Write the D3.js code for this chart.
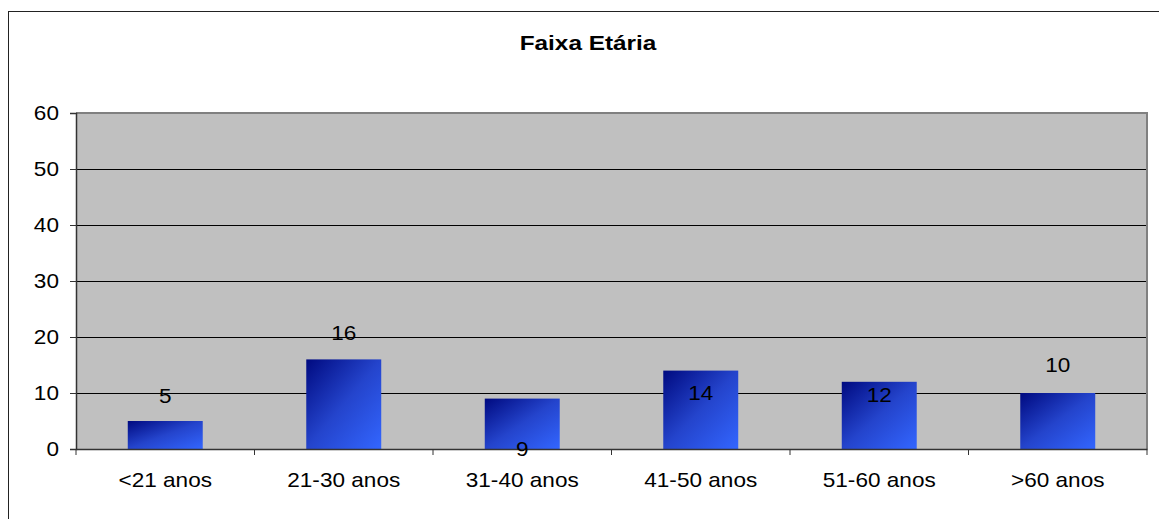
<!DOCTYPE html>
<html>
<head>
<meta charset="utf-8">
<script src="https://cdn.jsdelivr.net/npm/d3@7"></script>
<style>
  body { margin: 0; background: #fff; }
  text { font-family: "Liberation Sans", Arial, sans-serif; fill: #000; }
</style>
</head>
<body>
<script>
// chart data
const categories = ["<21 anos", "21-30 anos", "31-40 anos", "41-50 anos", "51-60 anos", ">60 anos"];
const values = [5, 16, 9, 14, 12, 10];
// where excel left each data label, in value units
const labelAt = [9.5, 20.8, 0, 10, 9.6, 15];
const yTicks = [0, 10, 20, 30, 40, 50, 60];
const title = "Faixa Etária";

const w = 1159;
const h = 519;
const plot = { left: 76, right: 1147, top: 113, bottom: 449 };
const stretch = 1.13; // text looks a bit wide in the reference

const svg = d3.select("body")
              .append("svg")
              .attr("width", w)
              .attr("height", h);

// bar gradient, dark navy top-left to bright blue bottom-right
const grad = svg.append("defs")
                .append("linearGradient")
                .attr("id", "barGrad")
                .attr("x1", 0).attr("y1", 0)
                .attr("x2", 1).attr("y2", 1);
grad.append("stop").attr("offset", "0%").attr("stop-color", "#000a80");
grad.append("stop").attr("offset", "50%").attr("stop-color", "#2444cc");
grad.append("stop").attr("offset", "100%").attr("stop-color", "#3366ff");

// outer frame
svg.append("rect")
   .attr("x", 8.5).attr("y", 11.5)
   .attr("width", 1170).attr("height", 530)
   .attr("fill", "none")
   .attr("stroke", "#222")
   .attr("stroke-width", 1);

// scales
const xScale = d3.scaleBand()
                 .domain(categories)
                 .range([plot.left, plot.right])
                 .padding(0);
const yScale = d3.scaleLinear()
                 .domain([0, 60])
                 .range([plot.bottom, plot.top]);
const barWidth = xScale.bandwidth() * 0.42;

// plot background
svg.append("rect")
   .attr("x", plot.left).attr("y", plot.top)
   .attr("width", plot.right - plot.left)
   .attr("height", plot.bottom - plot.top)
   .attr("fill", "#c0c0c0");

// gridlines
svg.selectAll(".grid")
   .data(yTicks.filter(t => t > 0 && t < 60))
   .enter()
   .append("line")
   .attr("class", "grid")
   .attr("x1", plot.left).attr("x2", plot.right)
   .attr("y1", d => Math.round(yScale(d)) + 0.5)
   .attr("y2", d => Math.round(yScale(d)) + 0.5)
   .attr("stroke", "#000")
   .attr("stroke-width", 1);

// gray border top and right
svg.append("path")
   .attr("d", `M${plot.left},${plot.top} H${plot.right} V${plot.bottom}`)
   .attr("fill", "none")
   .attr("stroke", "#808080")
   .attr("stroke-width", 2);

// bars
svg.selectAll(".bar")
   .data(values)
   .enter()
   .append("rect")
   .attr("class", "bar")
   .attr("x", (d, i) => xScale(categories[i]) + (xScale.bandwidth() - barWidth) / 2)
   .attr("y", d => yScale(d))
   .attr("width", barWidth)
   .attr("height", d => plot.bottom - yScale(d))
   .attr("fill", "url(#barGrad)");

// y axis
const yAxis = d3.axisLeft(yScale)
                .tickValues(yTicks)
                .tickSize(6)
                .tickPadding(11)
                .tickFormat(d3.format("d"));
const gy = svg.append("g")
              .attr("transform", `translate(${plot.left}, 0)`)
              .call(yAxis);
gy.select(".domain").attr("stroke", "#333").attr("stroke-width", 1.5);
gy.selectAll(".tick line").attr("stroke", "#333");
gy.selectAll(".tick text")
  .style("font-size", "20px")
  .attr("font-family", null)
  .attr("transform", `scale(${stretch},1)`)
  .attr("x", -17 / stretch);

// x axis, ticks at category boundaries
const xAxis = d3.axisBottom(xScale).tickSize(0).tickPadding(24);
const gx = svg.append("g")
              .attr("transform", `translate(0, ${plot.bottom})`)
              .call(xAxis);
gx.select(".domain").attr("stroke", "#333").attr("stroke-width", 1.5);
gx.selectAll(".tick text")
  .style("font-size", "20px")
  .attr("font-family", null)
  .attr("transform", `scale(${stretch},1)`);
gx.selectAll(".tick")
  .attr("transform", d => `translate(${(xScale(d) + xScale.bandwidth() / 2)},0)`);
gx.selectAll(".tick text").attr("x", 0);
gx.selectAll(".sep")
  .data(d3.range(categories.length + 1))
  .enter()
  .append("line")
  .attr("class", "sep")
  .attr("x1", i => i < categories.length ? xScale(categories[i]) : plot.right)
  .attr("x2", i => i < categories.length ? xScale(categories[i]) : plot.right)
  .attr("y1", 0).attr("y2", 6)
  .attr("stroke", "#333");

// data labels
svg.selectAll(".val")
   .data(values)
   .enter()
   .append("g")
   .attr("transform", (d, i) => `translate(${xScale(categories[i]) + xScale.bandwidth() / 2}, ${yScale(labelAt[i])}) scale(${stretch},1)`)
   .append("text")
   .attr("text-anchor", "middle")
   .attr("dy", "0.35em")
   .style("font-size", "20px")
   .text(d => d);

// title
svg.append("g")
   .attr("transform", `translate(588, 50) scale(1.16,1)`)
   .append("text")
   .attr("text-anchor", "middle")
   .style("font-size", "21px")
   .style("font-weight", "bold")
   .text(title);
</script>
</body>
</html>
